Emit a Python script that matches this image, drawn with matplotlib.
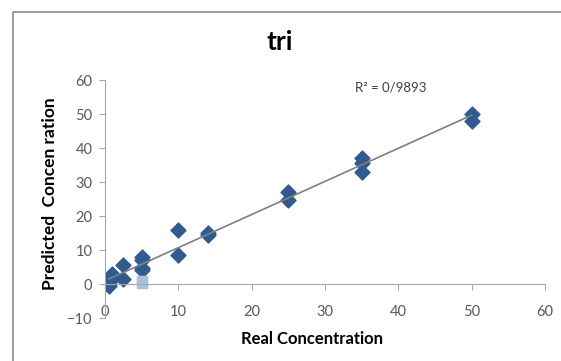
import numpy as np
import matplotlib.pyplot as plt
from matplotlib.patches import Rectangle

plt.rcParams['font.family'] = ['Lato', 'DejaVu Sans']

# measured points (dark diamonds)
real = [50, 50, 35, 35, 35, 25, 25, 14, 14, 10, 10,
        5, 5, 5, 5, 2.5, 2.5, 1, 1, 0.7, 0.5, 0.5]
pred = [50, 48, 37, 35.5, 32.8, 27, 24.7, 15, 14.3, 15.8, 8.5,
        8, 7, 4.8, 4, 5.5, 1.5, 2.8, 1.8, 0.8, 0, -0.7]
# light squares
real_b = [5, 5]
pred_b = [1, 0.3]

r2_text = "R² = 0/9893"

fig = plt.figure(figsize=(5.61, 3.61), dpi=100)
fig.patches.append(Rectangle((13 / 561, -0.1), 1.2, 1 - 12 / 361 + 0.1,
                             transform=fig.transFigure, fill=False,
                             edgecolor='#8c8c8c', lw=1.2))
ax = fig.add_axes([105 / 561, 1 - 318 / 361, 440 / 561, 238 / 361])

slope, inter = np.polyfit(real, pred, 1)
xs = np.array([min(real), max(real)])
ax.plot(xs, slope * xs + inter, color='#7f7f7f', lw=1.2, zorder=3)
ax.scatter(real, pred, marker='D', s=58, color='#2f5b8f', zorder=2)
ax.scatter(real_b, pred_b, marker='s', s=58, color='#a9c0de', zorder=2)

ax.set_xlim(0, 60)
ax.set_ylim(-10, 60)
ax.set_xticks(range(0, 61, 10))
ax.set_yticks(range(-10, 61, 10))

for s in ['top', 'right']:
    ax.spines[s].set_visible(False)
ax.spines['bottom'].set_position(('data', 0))
for s in ['bottom', 'left']:
    ax.spines[s].set_color('#a6a6a6')
ax.tick_params(axis='both', colors='#a6a6a6', labelcolor='#595959',
               labelsize=10.5, length=4, direction='out')
ax.tick_params(axis='x', pad=11)
ax.tick_params(axis='y', pad=5)

fig.text(280 / 561, 1 - 42 / 361, 'tri', ha='center', va='center',
         fontsize=19, fontweight='bold')
fig.text(50 / 561, 1 - 194 / 361, 'Predicted  Concen ration', rotation=90,
         ha='center', va='center', fontsize=12.5, fontweight='bold')
fig.text(312 / 561, 1 - 339 / 361, 'Real Concentration', ha='center',
         va='center', fontsize=12, fontweight='bold')
fig.text(355 / 561, 1 - 88 / 361, r2_text, ha='left', va='center',
         fontsize=9.5, color='#404040')

fig.savefig('out.png', dpi=100)
